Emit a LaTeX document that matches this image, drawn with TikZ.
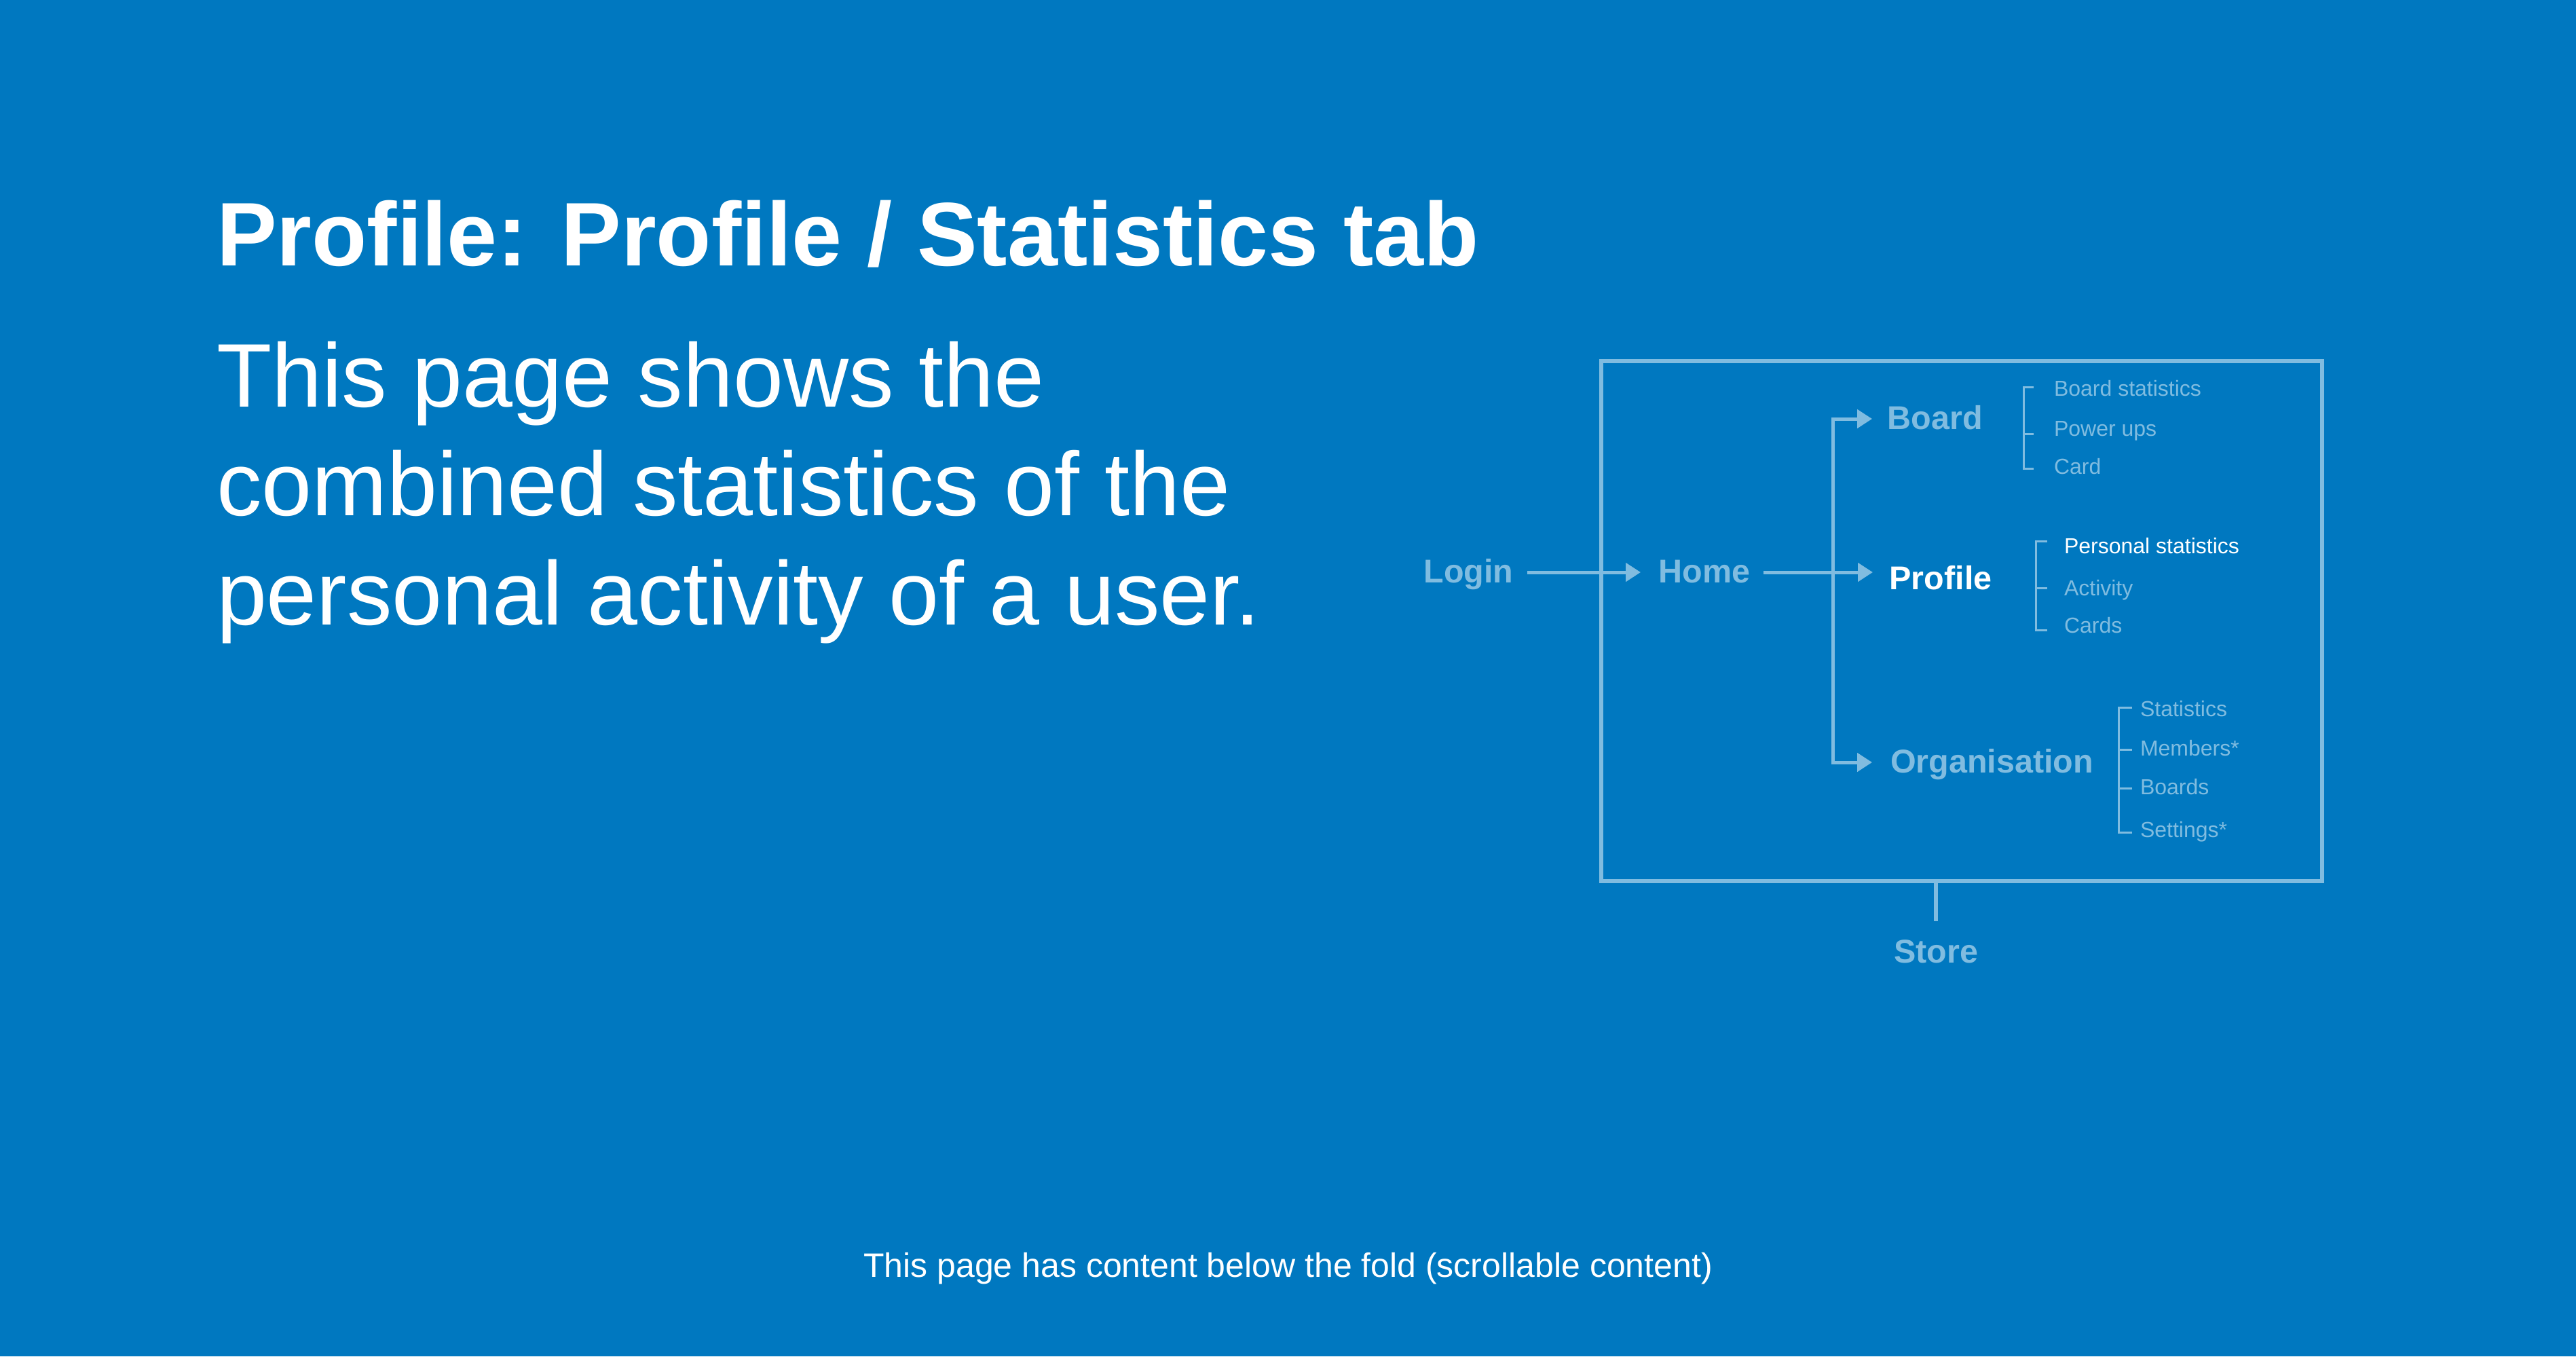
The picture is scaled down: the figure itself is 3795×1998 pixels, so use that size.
\documentclass[tikz,border=0pt]{standalone}
\usepackage{fontspec}
\setmainfont{Liberation Sans}
\usetikzlibrary{arrows.meta}
\definecolor{bg}{RGB}{0,120,192}
\definecolor{lite}{RGB}{128,188,224}
\begin{document}
\begin{tikzpicture}[x=1pt,y=-1pt,
  every node/.style={inner sep=0pt, outer sep=0pt},
  titletxt/.style={anchor=base west, text=white, font=\fontsize{133}{160}\selectfont\bfseries},
  bodytxt/.style={anchor=base west, text=white, font=\fontsize{133}{160}\selectfont},
  mainlbl/.style={anchor=base west, text=lite, font=\fontsize{48.5}{58}\selectfont\bfseries, text height=35pt, text depth=5pt},
  sublbl/.style={anchor=base west, text=lite, font=\fontsize{32}{38}\selectfont},
  flow/.style={draw=lite, line width=5pt, -{Triangle[length=22pt,width=27pt]}},
  frameline/.style={draw=lite, line width=6pt},
  brk/.style={draw=lite, line width=3pt},
  foot/.style={anchor=base, text=white, font=\fontsize{50}{60}\selectfont},
]
\useasboundingbox (0,0) rectangle (3795,1998);
\fill[bg] (0,0) rectangle (3795,1998);

% left texts
\node[titletxt] (title) at (319,391) {Profile: Profile / Statistics tab};
\node[bodytxt] (body1) at (319,599) {This page shows the};
\node[bodytxt] (body2) at (319,759.5) {combined statistics of the};
\node[bodytxt] (body3) at (319,920) {personal activity of a user.};

% frame
\node[frameline, minimum width=1062.3pt, minimum height=765.5pt] (frame) at (2889.9,914.75) {};

% main labels
\node[mainlbl] (login) at (2097.5,858) {Login};
\node[mainlbl] (home) at (2443.5,858) {Home};
\node[mainlbl] (board) at (2780.5,632) {Board};
\node[mainlbl, text=white] (profile) at (2783.5,868) {Profile};
\node[mainlbl] (org) at (2785,1138) {Organisation};
\node[mainlbl, anchor=base] (store) at (2852,1418) {Store};
\coordinate (split) at (2700,843);

% connectors
\draw[flow, shorten <=20pt, shorten >=26.5pt] (login) -- (home);
\draw[flow, shorten <=20pt, shorten >=24.5pt] (home) -- (home -| profile.west);
\draw[flow, shorten >=22.5pt] (org.west -| split) |- (board.west);
\draw[flow, shorten >=27pt] (board.west -| split) |- (org.west);
\draw[frameline, shorten >=26pt] (frame.south -| store) -- (store.north);

% board sub-items
\node[sublbl] (bstat) at (3026,583) {Board statistics};
\node[sublbl] (bpow) at (3026,642) {Power ups};
\node[sublbl] (bcard) at (3026,698) {Card};
\draw[brk] (2996,570.5) -- (2981.7,570.5) -- (2981.7,690) -- (2996,690);
\draw[brk] (2981.7,639) -- (2996,639);

% profile sub-items
\node[sublbl, text=white] (pstat) at (3041,815) {Personal statistics};
\node[sublbl] (pact) at (3041,877) {Activity};
\node[sublbl] (pcards) at (3041,932) {Cards};
\draw[brk] (3016,797.6) -- (2999.7,797.6) -- (2999.7,928.7) -- (3016,928.7);
\draw[brk] (2999.7,866.7) -- (3016,866.7);

% organisation sub-items
\node[sublbl] (ostat) at (3153,1055) {Statistics};
\node[sublbl] (omem) at (3153,1113.3) {Members*};
\node[sublbl] (oboards) at (3153,1170) {Boards};
\node[sublbl] (oset) at (3153,1233.3) {Settings*};
\draw[brk] (3141,1042) -- (3121,1042) -- (3121,1226) -- (3141,1226);
\draw[brk] (3121,1104) -- (3141,1104);
\draw[brk] (3121,1161.3) -- (3141,1161.3);

% footer
\node[foot] (footer) at (1897.5,1881) {This page has content below the fold (scrollable content)};
\end{tikzpicture}
\end{document}
